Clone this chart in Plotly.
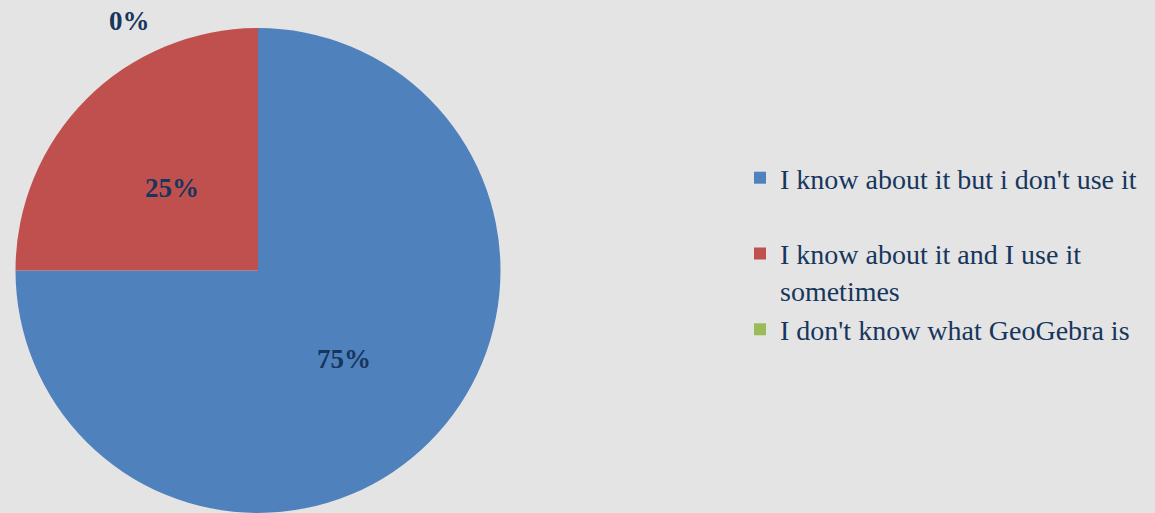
import math
import plotly.graph_objects as go

# Survey answers about GeoGebra
labels = [
    "I know about it but i don't use it",
    "I know about it and I use it<br>sometimes",
    "I don't know what GeoGebra is",
]
shares = [75, 25, 0]
colors = ["#4F81BD", "#C0504D", "#9BBB59"]

W, H = 1155, 513
M_T, M_B = 28, 0
TEXT = "#17365D"
FONT = "Liberation Serif"

# pie geometry in pixels (domain -> center / radius)
dom_x = [0, 516 / W]
plot_h = H - M_T - M_B
cx = (dom_x[0] + dom_x[1]) / 2 * W
cy = M_T + plot_h / 2
rad = min((dom_x[1] - dom_x[0]) * W, plot_h) / 2


def to_paper(px, py):
    return px / W, 1 - (py - M_T) / plot_h


# legend entries: pad the first with an empty line so the rows are evenly spaced
legend_labels = [labels[0] + "<br> ", labels[1], labels[2]]

fig = go.Figure(
    go.Pie(
        labels=legend_labels,
        values=shares,
        sort=False,
        direction="clockwise",
        rotation=0,
        marker=dict(colors=colors, line=dict(width=0)),
        textinfo="none",
        hoverinfo="label+percent",
        domain=dict(x=dom_x, y=[0, 1]),
    )
)

# percentage labels, placed halfway out along each slice's middle angle
total = sum(shares)
start = 0.0
annotations = []
for v in shares:
    frac = v / total
    mid = (start + frac / 2) * 2 * math.pi
    if v > 0:
        px = cx + 0.5 * rad * math.sin(mid)
        py = cy - 0.5 * rad * math.cos(mid) + 3
    else:
        # empty slice: label sits outside, above-left of the rim
        px = cx - 0.53 * rad
        py = cy - 1.03 * rad
    x, y = to_paper(px, py)
    annotations.append(
        dict(
            x=x, y=y, xref="paper", yref="paper",
            text=f"<b>{v}%</b>", showarrow=False,
            font=dict(family=FONT, size=27, color=TEXT),
            xanchor="center", yanchor="middle",
        )
    )
    start += frac

fig.update_layout(
    width=W,
    height=H,
    margin=dict(l=0, r=0, t=M_T, b=M_B),
    paper_bgcolor="#E4E4E4",
    plot_bgcolor="#E4E4E4",
    annotations=annotations,
    showlegend=True,
    legend=dict(
        x=740 / W, xanchor="left",
        y=to_paper(0, 153)[1], yanchor="top",
        valign="top",
        bgcolor="rgba(0,0,0,0)",
        font=dict(family=FONT, size=28, color=TEXT),
        itemclick=False,
    ),
)

fig.write_html("out.html")
